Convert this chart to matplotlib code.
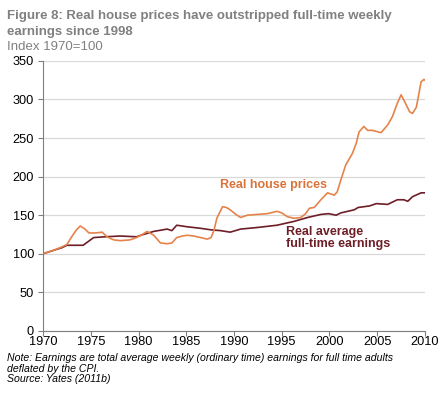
import matplotlib
matplotlib.use("Agg")
import matplotlib.pyplot as plt

plt.rcParams['font.family'] = ['Liberation Sans', 'DejaVu Sans']

# Real house prices (index 1970=100)
house_years = [1970, 1971, 1972, 1972.5, 1973, 1973.5, 1973.9, 1974.4, 1974.8, 1975.5,
               1976.2, 1976.7, 1977.4, 1978.1, 1979.1, 1979.8, 1980.4, 1980.9, 1981.6, 1982.3,
               1983.0, 1983.5, 1984.0, 1984.6, 1985.1, 1985.8, 1986.5, 1987.2, 1987.6, 1987.9,
               1988.2, 1988.8, 1989.2, 1989.6, 1990.2, 1990.7, 1991.4, 1992.4, 1993.5, 1994.5,
               1995.0, 1995.6, 1996.3, 1997.0, 1997.5, 1997.9, 1998.4, 1999.1, 1999.8, 2000.5,
               2000.8, 2001.2, 2001.7, 2002.4, 2002.8, 2003.1, 2003.6, 2004.0, 2004.5, 2005.4,
               2006.1, 2006.6, 2007.1, 2007.5, 2007.8, 2008.4, 2008.7, 2009.1, 2009.6, 2009.9,
               2010.0]
house_values = [100, 104, 109, 112, 122, 131, 136, 132, 127, 127,
                128, 122, 118, 117, 118, 121, 125, 129, 124, 114,
                113, 114, 121, 123, 124, 123, 121, 119, 121, 130,
                146, 161, 160, 157, 151, 147, 150, 151, 152, 155,
                153, 148, 146, 147, 152, 159, 160, 170, 179, 176,
                180, 196, 215, 230, 243, 258, 265, 260, 260, 257,
                267, 278, 295, 306, 299, 284, 282, 290, 323, 326,
                325]

# Real average full-time earnings (index 1970=100)
earn_years = [1970, 1971, 1972, 1972.5, 1973.2, 1974.2, 1975.3, 1976.5, 1978.1, 1979.8,
              1980.5, 1981.6, 1983.0, 1983.5, 1984.0, 1985.1, 1986.5, 1987.6, 1988.6, 1989.6,
              1990.7, 1992.4, 1994.5, 1996.3, 1997.7, 1999.1, 1999.9, 2000.7, 2001.2, 2002.6,
              2003.0, 2004.2, 2004.9, 2006.1, 2007.1, 2007.8, 2008.2, 2008.7, 2009.6, 2010.0]
earn_values = [100, 104, 108, 111, 111, 111, 121, 122, 123, 122,
               125, 129, 132, 130, 137, 135, 133, 131, 130, 128,
               132, 134, 137, 142, 147, 151, 152, 150, 153, 157,
               160, 162, 165, 164, 170, 170, 168, 174, 179, 179]

yticks = [0, 50, 100, 150, 200, 250, 300, 350]
xticks = [1970, 1975, 1980, 1985, 1990, 1995, 2000, 2005, 2010]

title_lines = ['Figure 8: Real house prices have outstripped full-time weekly',
               'earnings since 1998']
subtitle = 'Index 1970=100'
note_lines = ['Note: Earnings are total average weekly (ordinary time) earnings for full time adults',
              'deflated by the CPI.',
              'Source: Yates (2011b)']

HOUSE_C = '#E5834A'
EARN_C = '#6E1E27'
GRAY = '#808080'

fig = plt.figure(figsize=(4.39, 3.93), dpi=100)
ax = fig.add_axes([0.098, 0.158, 0.870, 0.687])

ax.plot(earn_years, earn_values, color=EARN_C, lw=1.2, zorder=3)
ax.plot(house_years, house_values, color=HOUSE_C, lw=1.2, zorder=4)

ax.set_xlim(1970, 2010)
ax.set_ylim(0, 350)
ax.set_yticks(yticks)
ax.set_xticks(xticks)
ax.set_yticklabels([str(v) for v in yticks], fontsize=9.2)
ax.set_xticklabels([str(v) for v in xticks], fontsize=9.2)
ax.grid(axis='y', color='#D9D9D9', lw=0.9)
ax.set_axisbelow(True)
for s in ['top', 'right']:
    ax.spines[s].set_visible(False)
ax.spines['left'].set_color('#7F7F7F')
ax.spines['bottom'].set_color('#7F7F7F')
ax.tick_params(axis='both', colors='#7F7F7F', labelcolor='black', length=3.5, width=0.8)
ax.tick_params(axis='x', pad=0.5)
ax.tick_params(axis='y', pad=3)

ax.text(1988.5, 189, 'Real house prices', color='#D9733B', fontsize=9,
        fontweight='bold', ha='left', va='center')
ax.text(1995.4, 120, 'Real average\nfull-time earnings', color=EARN_C, fontsize=9,
        fontweight='bold', ha='left', va='center', linespacing=1.0)

# title lines (baselines)
fig.text(0.016, 1 - 19 / 393, title_lines[0], color=GRAY, fontsize=9.5,
         fontweight='bold', ha='left', va='baseline')
fig.text(0.016, 1 - 34.7 / 393, title_lines[1], color=GRAY, fontsize=9.5,
         fontweight='bold', ha='left', va='baseline')
fig.text(0.016, 1 - 50 / 393, subtitle, color=GRAY, fontsize=9.5,
         ha='left', va='baseline')

for yb, line in zip([361, 371.7, 382], note_lines):
    fig.text(0.016, 1 - yb / 393, line, color='black', fontsize=7.6,
             style='italic', ha='left', va='baseline')

fig.savefig('out.png', dpi=100, facecolor='white')
